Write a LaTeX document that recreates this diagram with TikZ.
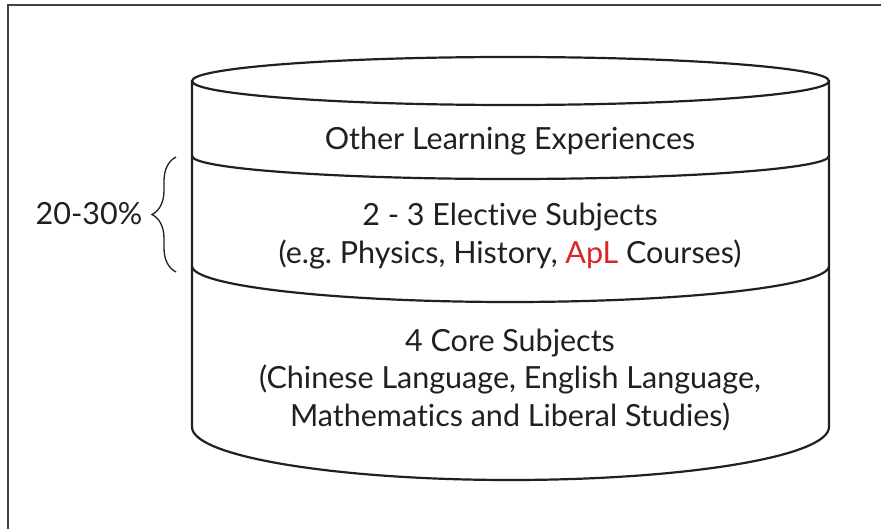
\documentclass[tikz,border=0pt]{standalone}
\usepackage{fontspec}
\setmainfont{Lato}[Ligatures=NoCommon]
\frenchspacing
\usetikzlibrary{decorations.pathreplacing}
\definecolor{ink}{RGB}{35,31,32}
\definecolor{aplred}{RGB}{218,37,42}
\begin{document}
\begin{tikzpicture}[x=1pt,y=-1pt,
  frame/.style={line width=2pt,draw=ink!85},
  cyl/.style={line width=2.2pt,draw=ink},
  lbl/.style={text=ink,font=\fontsize{30.5}{37.5}\selectfont,align=center,inner sep=0pt},
  bracestyle/.style={line width=1.3pt,draw=ink,decorate,decoration={brace,amplitude=24pt}}]
\useasboundingbox (0,0) rectangle (881,529);
\fill[white] (0,0) rectangle (881,529);
% frame
\draw[frame] (8,529) -- (8,5) -- (881,5);
% cylinder body
\draw[cyl] (192,81) -- (192,427) arc[start angle=180,end angle=360,x radius=318.5pt,y radius=53pt] -- (829,81);
\draw[cyl] (510.5,81) ellipse [x radius=318.5pt,y radius=24pt];
\draw[cyl] (192,156) arc[start angle=180,end angle=360,x radius=318.5pt,y radius=23pt];
\draw[cyl] (192,266) arc[start angle=180,end angle=360,x radius=318.5pt,y radius=36pt];
% texts
\node[lbl] (olex) at (510,141) {Other Learning Experiences};
\node[lbl] (elect) at (510,236) {2 - 3 Elective Subjects\\(e.g. Physics, History, \textcolor{aplred}{ApL} Courses)};
\node[lbl] (core) at (510,380) {4 Core Subjects\\(Chinese Language, English Language,\\Mathematics and Liberal Studies)};
% brace
\draw[bracestyle] (176,272) -- (176,157);
\node[lbl] (pct) at (89,214) {20-30\%};
\end{tikzpicture}
\end{document}
